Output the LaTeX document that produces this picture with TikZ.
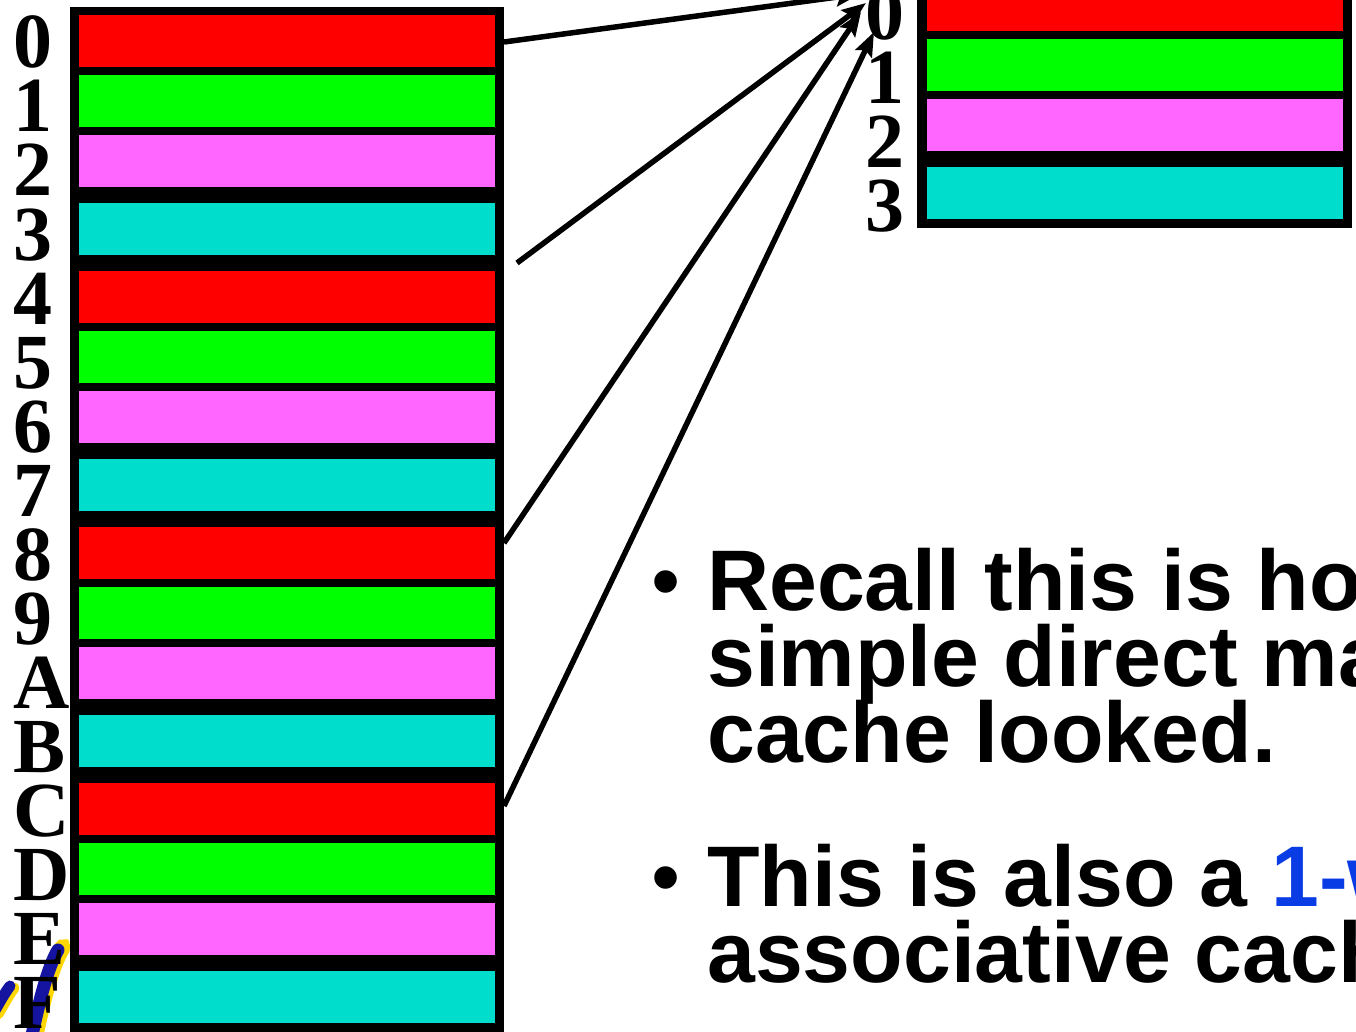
\documentclass[tikz,border=0pt]{standalone}
\usepackage{fontspec}
\setmainfont{Liberation Serif}
\newfontfamily\arialfont{Liberation Sans}
\usetikzlibrary{arrows.meta}
\definecolor{cred}{RGB}{255,0,0}
\definecolor{cgreen}{RGB}{0,255,0}
\definecolor{cmag}{RGB}{255,102,255}
\definecolor{ccyan}{RGB}{0,221,204}
\definecolor{kblue}{RGB}{10,60,230}
\definecolor{logoblue}{RGB}{20,20,160}
\definecolor{logoyellow}{RGB}{255,215,0}
\begin{document}
\begin{tikzpicture}[x=1pt,y=-1pt,
  box/.style={fill=black, draw=none, inner sep=0pt, outer sep=0pt, anchor=north west},
  bar/.style={draw=none, inner sep=0pt, outer sep=0pt, minimum width=416pt, minimum height=52pt, anchor=north west},
  lbl/.style={anchor=base west, inner sep=0pt, font=\fontsize{78}{78}\selectfont\bfseries},
  arr/.style={line width=5.5pt, -{Stealth[length=24pt,width=18pt,inset=4pt]}},
  txt/.style={anchor=base west, inner sep=0pt, font=\arialfont\bfseries\fontsize{86}{86}\selectfont},
  bul/.style={anchor=center, inner sep=0pt, font=\arialfont\fontsize{83}{83}\selectfont},
]
\clip (0,0) rectangle (1356,1032);
\fill[white] (0,0) rectangle (1356,1032);
% logo fragment
\draw[logoyellow, line width=13pt, line cap=round] (35,1045) .. controls (43,1005) and (53,966) .. (63,950) .. controls (65,946) and (63,944) .. (60,948);
\draw[logoblue, line width=13pt, line cap=round] (30,1045) .. controls (38,1005) and (48,966) .. (58,950);
\draw[logoyellow, line width=11pt, line cap=round] (-2,1014) .. controls (4,1004) and (8,996) .. (14,988);
\draw[logoblue, line width=11pt, line cap=round] (-6,1012) .. controls (0,1002) and (4,994) .. (10,986);
% memory
\node[box, minimum width=434pt, minimum height=1040pt] (mem) at (70,7) {};
\foreach \i/\t/\c in {0/15/cred,1/75/cgreen,2/135/cmag,3/203/ccyan,4/271/cred,5/331/cgreen,6/391/cmag,7/459/ccyan,8/527/cred,9/587/cgreen,10/647/cmag,11/715/ccyan,12/783/cred,13/843/cgreen,14/903/cmag,15/971/ccyan}
  \node[bar, fill=\c] (m\i) at (79,\t) {};
\foreach \i/\s in {0/0,1/1,2/2,3/3,4/4,5/5,6/6,7/7,8/8,9/9,10/A,11/B,12/C,13/D,14/E,15/F}
  \node[lbl] (ml\i) at (13,{68+64*\i}) {\s};
% cache
\node[box, minimum width=435pt, minimum height=257pt] (cache) at (917,-29) {};
\foreach \i/\t/\c in {0/-21/cred,1/39/cgreen,2/99/cmag,3/167/ccyan}
  \node[bar, fill=\c] (c\i) at (927,\t) {};
\foreach \i in {0,1,2,3}
  \node[lbl] (cl\i) at (865,{40+64*\i}) {\i};
% arrows
\coordinate (s1) at (504,42);
\coordinate (s2) at (517,263);
\coordinate (s3) at (504,543);
\coordinate (s4) at (504,806);
\coordinate (t1) at (860,-6);
\coordinate (t2) at (866,3);
\coordinate (t3) at (861,12);
\coordinate (t4) at (874,32);
\draw[arr] (s1) -- (t1);
\draw[arr] (s2) -- (t2);
\draw[arr] (s3) -- (t3);
\draw[arr] (s4) -- (t4);
% text
\node[bul] (b1) at (666,590) {•};
\node[txt] (l1) at (707,610) {Recall this is how};
\node[txt] (l2) at (707,686) {simple direct mapped};
\node[txt] (l3) at (707,762) {cache looked.};
\node[bul] (b2) at (666,886) {•};
\node[txt] (l4) at (707,906) {This is also a \textcolor{kblue}{1-way}};
\node[txt] (l5) at (707,982) {associative cache};
\end{tikzpicture}
\end{document}
